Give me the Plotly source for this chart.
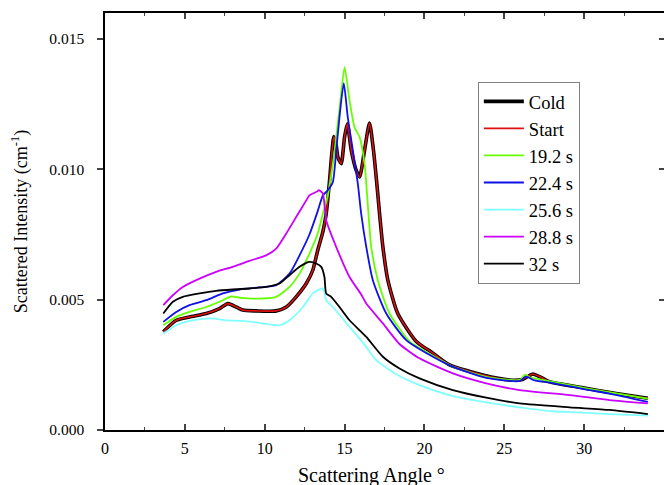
import plotly.graph_objects as go

# ---- data (intensity values in units of 1e-3 cm^-1) ----
start_x = [3.65, 4.46, 5.29, 6.34, 7.17, 7.69, 8.22, 8.63, 9.47, 10.72, 11.35, 11.97, 12.60, 13.01, 13.32,
           13.64, 13.85, 14.05, 14.2, 14.33, 14.48, 14.58, 14.79, 15.00, 15.17, 15.42, 15.73, 15.94, 16.25,
           16.56, 16.81, 17.02, 17.19, 17.40, 17.71, 18.33, 19.49, 20.53, 21.57, 23.66, 25.33, 26.14, 26.55,
           26.79, 27.3, 27.83, 29.92, 32.01, 33.99]
start_y = [3.77, 4.21, 4.34, 4.47, 4.66, 4.85, 4.72, 4.60, 4.57, 4.57, 4.72, 5.11, 5.62, 6.13, 6.90,
           7.6, 8.3, 9.5, 10.6, 11.26, 10.9, 10.47, 10.22, 11.24, 11.75, 10.73, 9.96, 9.71, 10.73,
           11.78, 10.73, 9.45, 8.3, 7.02, 5.75, 4.47, 3.4, 2.95, 2.5, 2.11, 1.92, 1.94, 2.08,
           2.15, 2.02, 1.85, 1.62, 1.40, 1.22]

cold_x = list(start_x)
cold_y = list(start_y)

g192_x = [3.65, 4.46, 5.29, 6.34, 7.38, 7.90, 8.42, 9.47, 10.72, 11.55, 12.18, 12.80, 13.32, 13.6, 13.95,
          14.33, 14.68, 15.0, 15.31, 15.62, 15.94, 16.25, 16.46, 16.67, 17.08, 17.81, 19.07, 20.53, 21.78,
          23.87, 25.96, 26.3, 26.6, 27.0, 28.04, 30.13, 32.01, 33.99]
g192_y = [4.02, 4.34, 4.53, 4.72, 4.98, 5.13, 5.08, 5.04, 5.11, 5.49, 6.0, 6.77, 7.54, 8.2, 9.0,
          10.5, 12.3, 13.92, 12.64, 11.62, 11.24, 10.22, 8.6, 7.02, 5.75, 4.47, 3.4, 2.85, 2.43,
          2.04, 1.92, 2.12, 2.02, 1.97, 1.85, 1.60, 1.40, 1.20]

b224_x = [3.65, 4.46, 5.29, 6.34, 7.38, 8.42, 9.67, 10.72, 11.55, 12.18, 12.80, 13.32, 13.64, 13.95, 14.26,
          14.48, 14.68, 14.95, 15.20, 15.52, 15.83, 16.04, 16.36, 16.77, 17.61, 18.86, 20.53, 21.78, 23.87,
          25.96, 26.37, 26.9, 28.04, 30.13, 31.59, 33.99]
b224_y = [4.15, 4.53, 4.79, 4.98, 5.24, 5.39, 5.47, 5.56, 6.0, 6.7, 7.5, 8.4, 9.0, 9.2, 9.5,
          10.73, 12.0, 13.31, 12.0, 10.73, 9.45, 8.3, 7.02, 5.75, 4.47, 3.45, 2.81, 2.43, 2.0,
          1.88, 2.05, 1.90, 1.80, 1.55, 1.40, 1.08]

c256_x = [3.65, 4.46, 5.5, 6.6, 7.64, 8.63, 9.67, 10.93, 11.55, 12.39, 13.01, 13.64, 13.85, 14.26, 15.31,
          16.36, 16.98, 18.44, 19.69, 21.78, 23.87, 25.96, 28.04, 29.92, 31.59, 33.99]
c256_y = [3.70, 4.02, 4.21, 4.28, 4.21, 4.19, 4.11, 4.02, 4.21, 4.72, 5.24, 5.43, 4.98, 4.72, 3.96,
          3.19, 2.68, 2.07, 1.72, 1.30, 1.06, 0.87, 0.72, 0.67, 0.61, 0.55]

m288_x = [3.65, 4.25, 4.87, 5.92, 6.96, 8.00, 9.05, 10.09, 10.72, 11.35, 11.97, 12.60, 12.80, 13.22, 13.40,
          13.64, 13.85, 14.48, 15.31, 16.04, 16.36, 17.40, 18.44, 19.69, 21.78, 23.87, 25.96, 29.09, 31.59,
          33.99]
m288_y = [4.79, 5.17, 5.49, 5.81, 6.07, 6.26, 6.49, 6.70, 6.96, 7.54, 8.17, 8.81, 9.0, 9.13, 9.2,
          9.07, 8.05, 7.02, 5.87, 5.2, 4.85, 4.09, 3.3, 2.75, 2.17, 1.79, 1.53, 1.34, 1.15,
          1.02]

k32_x = [3.65, 4.25, 4.87, 5.92, 6.96, 8.00, 9.05, 10.09, 10.93, 11.55, 12.18, 12.60, 12.80, 13.22, 13.54,
         13.74, 13.85, 14.16, 14.68, 15.31, 16.36, 17.40, 18.44, 19.69, 21.78, 23.87, 25.96, 29.09, 31.59,
         33.99]
k32_y = [4.47, 4.92, 5.11, 5.24, 5.34, 5.39, 5.43, 5.49, 5.62, 5.94, 6.26, 6.41, 6.45, 6.39, 6.26,
         5.87, 5.24, 5.11, 4.72, 4.21, 3.57, 2.81, 2.36, 1.98, 1.53, 1.24, 1.02, 0.87, 0.77,
         0.61]

series_names = ["Cold", "Start", "19.2 s", "22.4 s", "25.6 s", "28.8 s", "32 s"]
x_ticks = [0, 5, 10, 15, 20, 25, 30]
y_ticks = [0.000, 0.005, 0.010, 0.015]
x_title = "Scattering Angle °"
y_title = "Scattered Intensity (cm<sup>-1</sup>)"

SCALE = 1e-3
FONT = "Liberation Serif"

series = [
    (cold_x, cold_y, "#000000", 3.6),
    (start_x, start_y, "#dd1010", 1.6),
    (g192_x, g192_y, "#66ff00", 1.8),
    (b224_x, b224_y, "#1010e8", 1.8),
    (c256_x, c256_y, "#80ffff", 1.8),
    (m288_x, m288_y, "#cc00ff", 1.8),
    (k32_x, k32_y, "#000000", 1.8),
]

fig = go.Figure()
for name, (xs, ys, col, w) in zip(series_names, series):
    fig.add_trace(go.Scatter(x=xs, y=[v * SCALE for v in ys], mode="lines", name=name,
                             line=dict(color=col, width=w, shape="spline", smoothing=0.6)))

# dummy trace so the right-hand tick axis is drawn
fig.add_trace(go.Scatter(x=[None], y=[None], yaxis="y2", showlegend=False, hoverinfo="skip"))

fig.update_layout(
    width=664, height=485,
    margin=dict(l=105, r=0, t=13, b=55, autoexpand=False),
    paper_bgcolor="white", plot_bgcolor="white",
    font=dict(family=FONT, size=15, color="black"),
    showlegend=True,
    legend=dict(x=0.667, y=0.835, xanchor="left", yanchor="top",
                bgcolor="white", bordercolor="#808080", borderwidth=1,
                font=dict(family=FONT, size=18.5, color="black"),
                itemwidth=40, tracegroupgap=0),
    xaxis=dict(range=[0, 35], tickvals=x_ticks, ticks="inside", ticklen=6, tickwidth=1.5,
               showline=True, linewidth=1.5, linecolor="black", mirror="ticks", automargin=False,
               showgrid=False, zeroline=False, ticklabelstandoff=3,
               minor=dict(dtick=2.5, tick0=0, ticks="inside", ticklen=3, tickwidth=1.2, showgrid=False),
               tickfont=dict(family=FONT, size=16)),
    yaxis=dict(range=[0, 0.016], tickvals=y_ticks, tickformat=".3f", ticks="outside", ticklen=6,
               tickwidth=1.5, showline=True, linewidth=1.5, linecolor="black", mirror=False,
               showgrid=False, zeroline=False, ticklabelstandoff=10, automargin=False,
               title=dict(text=y_title, font=dict(family=FONT, size=18), standoff=17),
               tickfont=dict(family=FONT, size=15.5)),
    yaxis2=dict(range=[0, 0.016], overlaying="y", side="right", tickvals=y_ticks, ticks="inside",
                ticklen=5, tickwidth=1.5, showticklabels=False, showline=False, showgrid=False,
                zeroline=False, automargin=False),
    annotations=[dict(text=x_title, xref="paper", yref="paper", x=0.4776, y=-0.108,
                      xanchor="center", yanchor="middle", showarrow=False,
                      font=dict(family=FONT, size=20, color="black"))],
)

fig.write_html(
    "out.html",
    config={"displayModeBar": False},
    post_script=(
        "document.documentElement.style.margin='0';document.documentElement.style.padding='0';"
        "document.documentElement.style.overflow='hidden';"
        "document.body.style.margin='0';document.body.style.padding='0';"
        "document.body.style.overflow='hidden';"
    ),
)
